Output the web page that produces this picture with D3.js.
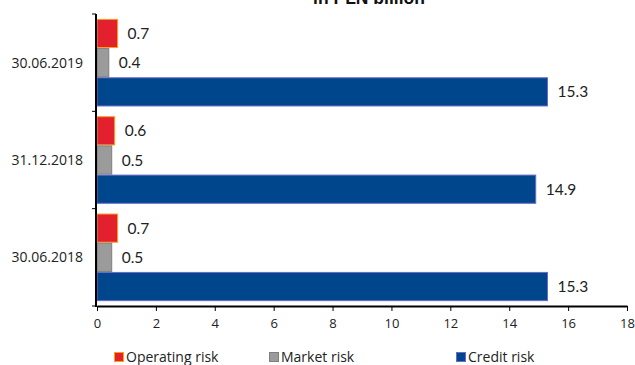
<!DOCTYPE html>
<html>
<head>
<meta charset="utf-8">
<script src="https://cdn.jsdelivr.net/npm/d3@7"></script>
<style>
  html, body { margin: 0; padding: 0; background: #fff; }
  svg { display: block; }
</style>
</head>
<body>
<svg id="chart" width="635" height="365"></svg>
<script>
// Capital requirements by risk type, PLN billion
const categories = ["30.06.2019", "31.12.2018", "30.06.2018"];
const series = ["Operating risk", "Market risk", "Credit risk"];
const operatingRisk = [0.7, 0.6, 0.7];
const marketRisk = [0.4, 0.5, 0.5];
const creditRisk = [15.3, 14.9, 15.3];
const xTicks = [0, 2, 4, 6, 8, 10, 12, 14, 16, 18];
const titleText = "in PLN billion";

const fills = { "Operating risk": "#e3202e", "Market risk": "#9b9b9b", "Credit risk": "#00468c" };
const strokes = { "Operating risk": "#f9a01b", "Market risk": "#7f7f7f", "Credit risk": "#6a6ac8" };

const valuesBySeries = {
  "Operating risk": operatingRisk,
  "Market risk": marketRisk,
  "Credit risk": creditRisk
};

const svg = d3.select("#chart");
const plotLeft = 97, plotRight = 627, plotTop = 14, plotBottom = 306;

const x = d3.scaleLinear().domain([0, 18]).range([plotLeft, plotRight]);
const y = d3.scaleBand().domain(categories).range([plotTop, plotBottom])
  .paddingInner(0.1).paddingOuter(0.05);
const ySub = d3.scaleBand().domain(series).range([0, y.bandwidth()]);

// title (sits partly above the visible area)
svg.append("text")
  .attr("x", 369).attr("y", 4)
  .attr("text-anchor", "middle")
  .attr("font-family", "Liberation Sans, Arial, sans-serif")
  .attr("font-weight", "bold")
  .attr("font-size", 17.5)
  .attr("fill", "#111")
  .text(titleText);

// bars
const groups = svg.append("g").selectAll("g")
  .data(categories)
  .join("g")
  .attr("transform", d => `translate(0,${y(d)})`);

groups.each(function (cat, i) {
  const g = d3.select(this);
  series.forEach(s => {
    const v = valuesBySeries[s][i];
    g.append("rect")
      .attr("x", x(0))
      .attr("y", ySub(s) + 0.5)
      .attr("width", x(v) - x(0))
      .attr("height", ySub.bandwidth() - 1)
      .attr("fill", fills[s])
      .attr("stroke", strokes[s])
      .attr("stroke-width", 1);
    g.append("text")
      .attr("x", x(v) + 10)
      .attr("y", ySub(s) + ySub.bandwidth() / 2)
      .attr("dy", "0.36em")
      .attr("font-family", "Lato, 'Open Sans', sans-serif")
      .attr("font-size", 15.5)
      .attr("fill", "#222")
      .text(d3.format(".1f")(v));
  });
});

// x axis
const xAxis = d3.axisBottom(x).tickValues(xTicks).tickFormat(d3.format("d"))
  .tickSize(5).tickSizeOuter(0);
const gx = svg.append("g").attr("transform", `translate(0,${plotBottom})`).call(xAxis);
gx.select(".domain").attr("stroke", "#000").attr("stroke-width", 2);
gx.selectAll(".tick line").attr("stroke", "#000").attr("stroke-width", 1);
gx.selectAll(".tick text")
  .attr("font-family", "'Open Sans', sans-serif")
  .attr("font-size", 13)
  .attr("fill", "#222")
  .attr("dy", "1.05em");

// y axis: line with ticks at band boundaries
const gy = svg.append("g");
gy.append("line")
  .attr("x1", plotLeft - 1).attr("x2", plotLeft - 1)
  .attr("y1", plotTop).attr("y2", plotBottom + 1)
  .attr("stroke", "#000").attr("stroke-width", 2);
const boundaries = d3.range(categories.length + 1).map(i => plotTop + i * y.step());
gy.selectAll("line.b").data(boundaries).join("line")
  .attr("class", "b")
  .attr("x1", plotLeft - 5).attr("x2", plotLeft - 1)
  .attr("y1", d => d).attr("y2", d => d)
  .attr("stroke", "#000").attr("stroke-width", 1);
gy.selectAll("text").data(categories).join("text")
  .attr("x", 83)
  .attr("y", d => y(d) + ySub("Market risk") + ySub.bandwidth() / 2)
  .attr("dy", "0.36em")
  .attr("text-anchor", "end")
  .attr("font-family", "'Open Sans', sans-serif")
  .attr("font-size", 14)
  .attr("fill", "#222")
  .text(d => d);

// legend
const legendX = [114, 269, 456];
const lg = svg.append("g").selectAll("g").data(series).join("g")
  .attr("transform", (d, i) => `translate(${legendX[i]},352)`);
lg.append("rect")
  .attr("x", 0.5).attr("y", 0.5)
  .attr("width", 9).attr("height", 9)
  .attr("fill", d => fills[d])
  .attr("stroke", d => strokes[d]);
lg.append("text")
  .attr("x", 12).attr("y", 5)
  .attr("dy", "0.36em")
  .attr("font-family", "'Open Sans', sans-serif")
  .attr("font-size", 14)
  .attr("fill", "#222")
  .text(d => d);
</script>
</body>
</html>
